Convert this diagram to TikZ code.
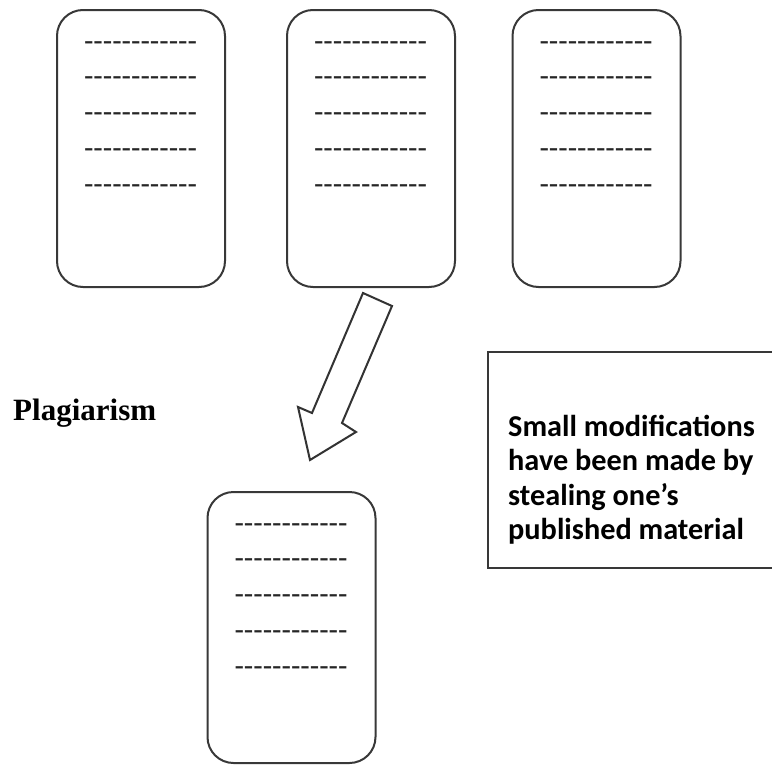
\documentclass[tikz,border=0pt]{standalone}
\usepackage{fontspec}
\newfontfamily\calibri{Carlito}
\newfontfamily\timesfont{Liberation Serif}
\begin{document}
\begin{tikzpicture}[x=1pt, y=-1pt,
  doc/.style={draw=black!78, line width=2pt, rounded corners=26pt,
    minimum width=168pt, inner sep=0pt, outer sep=0pt},
  dashline/.style={anchor=mid west, inner sep=0pt, outer sep=0pt,
    font=\calibri\fontsize{30.8}{32}\selectfont, text=black!85},
  notebox/.style={draw=black!78, line width=2pt, inner sep=0pt},
  blockarrow/.style={draw=black!80, line width=2pt, fill=white, line join=miter}]
  \path[use as bounding box] (0,0) rectangle (772,766);
  \clip (0,0) rectangle (772,766);

  % source documents along the top
  \node[doc, minimum height=277pt] (d1) at (141,148.5) {};
  \node[doc, minimum height=277pt] (d2) at (371,148.5) {};
  \node[doc, minimum height=277pt] (d3) at (596.5,148.5) {};
  % copied document
  \node[doc, minimum height=271pt] (d4) at (291.5,627.5) {};

  % placeholder text lines inside each document
  \foreach \d in {d1,d2,d3,d4}{
    \foreach \k in {0,...,4}{
      \path (\d.north west) ++(27,39+35.75*\k) node[dashline] {------------};
    }
  }

  % block arrow from the middle document towards the copy
  \draw[blockarrow] (363,293) -- (392,306) -- (342,423) -- (356,432)
    -- (310,460) -- (298,407) -- (312,413) -- cycle;

  % labels
  \node[anchor=base west, inner sep=0pt,
    font=\timesfont\bfseries\fontsize{31}{36}\selectfont] (plag) at (13,420) {Plagiarism};

  \node[notebox, minimum width=292pt, minimum height=216pt] (note) at (634,460) {};
  % the base anchor of this multi-line node sits on its last line
  \node[anchor=base west, inner sep=0pt, align=left,
    font=\calibri\bfseries\fontsize{30.3}{34.5}\selectfont] (notetext) at (508,539.5)
    {Small modifications\\have been made by\\stealing one’s\\published material};
\end{tikzpicture}
\end{document}
